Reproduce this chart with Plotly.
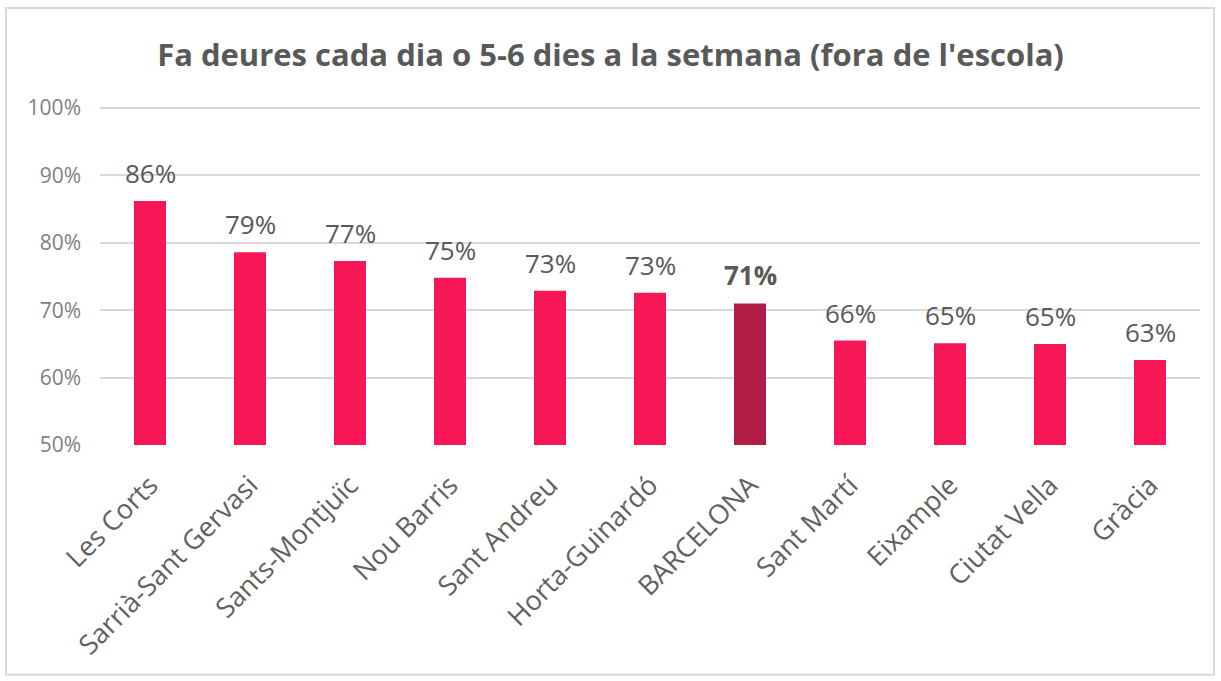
import plotly.graph_objects as go

categories = ["Les Corts", "Sarrià-Sant Gervasi", "Sants-Montjuïc", "Nou Barris", "Sant Andreu",
              "Horta-Guinardó", "BARCELONA", "Sant Martí", "Eixample", "Ciutat Vella", "Gràcia"]
values = [86.2, 78.6, 77.3, 74.8, 72.9, 72.6, 71.0, 65.5, 65.1, 65.0, 62.6]
highlight = "BARCELONA"
y_ticks = [50, 60, 70, 80, 90, 100]
y_ticklabels = ["50%", "60%", "70%", "80%", "90%", "100%"]

colors = ["#B01E45" if c == highlight else "#F71656" for c in categories]
texts = [f"<b>{v:.0f}%</b>" if c == highlight else f"{v:.0f}%" for c, v in zip(categories, values)]

fig = go.Figure(go.Bar(
    x=categories, y=values, marker=dict(color=colors, line=dict(width=0)),
    width=0.32, hoverinfo="x+y",
))

for c, v, t in zip(categories, values, texts):
    fig.add_annotation(x=c, y=v, text=t, showarrow=False, yanchor="middle", yshift=28,
                       font=dict(family="Open Sans", size=26, color="#595959"))

fig.update_layout(
    width=1221, height=681,
    margin=dict(l=100, r=21, t=107, b=236),
    paper_bgcolor="white", plot_bgcolor="white",
    title=dict(text="<b>Fa deures cada dia o 5-6 dies a la setmana (fora de l'escola)</b>",
               x=0.5, xanchor="center", y=1 - 55 / 681, yanchor="middle",
               font=dict(family="Open Sans", size=31, color="#595959")),
    showlegend=False,
    xaxis=dict(tickangle=-45, tickfont=dict(family="Open Sans", size=27, color="#616161"),
               showgrid=False, showline=False, ticks="", ticklabelstandoff=18),
    yaxis=dict(range=[50, 100.15], tickvals=y_ticks, ticktext=y_ticklabels,
               tickfont=dict(family="Open Sans", size=21, color="#7F7F7F"),
               showgrid=True, gridcolor="#D9D9D9", gridwidth=1.5, zeroline=False,
               showline=False, ticks="", ticklabelstandoff=18),
    shapes=[dict(type="rect", xref="paper", yref="paper",
                 x0=-0.0855, x1=1.0127, y0=-0.68, y1=1.293,
                 line=dict(color="#D9D9D9", width=2), fillcolor="rgba(0,0,0,0)", layer="below")],
)

fig.write_html("out.html", config={"displayModeBar": False},
               post_script="document.body.style.margin='0';")
